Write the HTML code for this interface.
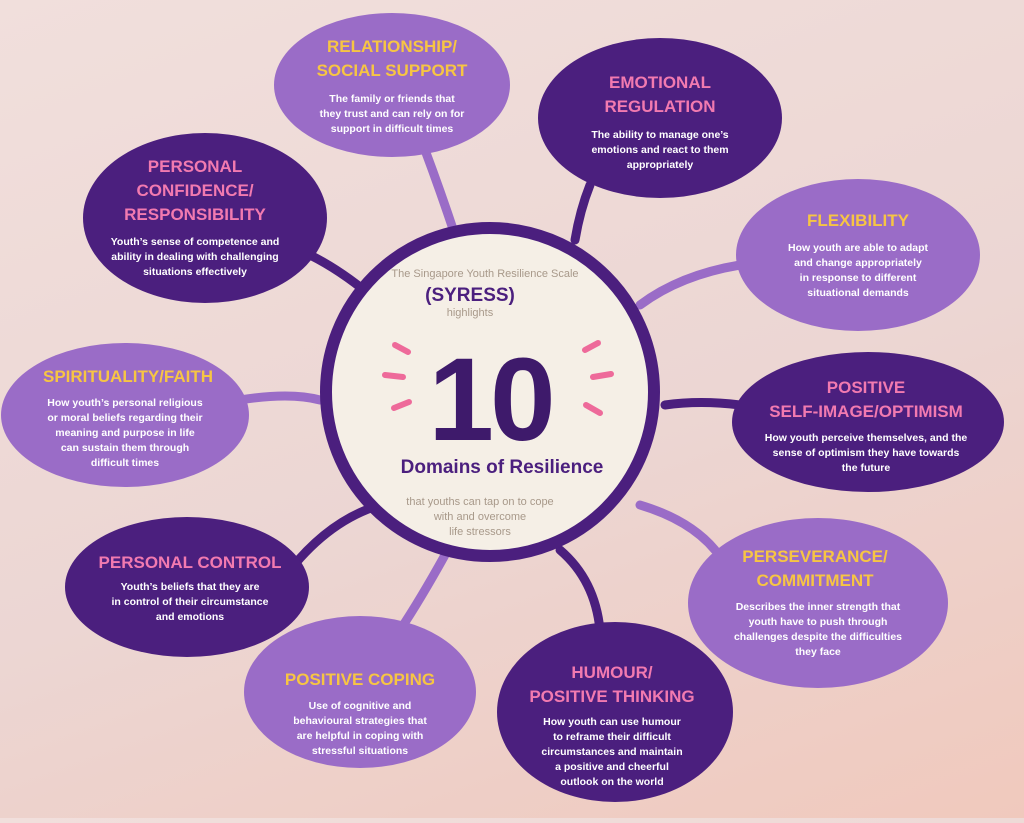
<!DOCTYPE html>
<html><head><meta charset="utf-8"><style>
html,body{margin:0;padding:0;}
body{width:1024px;height:818px;overflow:hidden;background:linear-gradient(160deg,#f1dfdc 0%,#ecd6d3 55%,#f0c9bd 100%);}
svg text{font-family:"Liberation Sans",sans-serif;font-weight:bold;text-anchor:middle;}
.t{font-size:17px;}
.b{font-size:10.5px;fill:#fff;}
.y{fill:#f7c543;}
.p{fill:#f27ab0;}
</style></head><body>
<svg width="1024" height="818" viewBox="0 0 1024 818">
<g fill="none" stroke-width="9" stroke-linecap="round">
<path d="M455 235 Q440 190 425 150" stroke="#9a6cc7"/>
<path d="M575 240 Q580 210 590 185" stroke="#4b1f7e"/>
<path d="M370 295 Q340 270 310 255" stroke="#4b1f7e"/>
<path d="M640 305 Q680 275 740 265" stroke="#9a6cc7"/>
<path d="M320 400 Q290 392 240 400" stroke="#9a6cc7"/>
<path d="M665 405 Q700 400 740 405" stroke="#4b1f7e"/>
<path d="M380 505 Q330 520 290 570" stroke="#4b1f7e"/>
<path d="M640 505 Q690 520 715 550" stroke="#9a6cc7"/>
<path d="M445 555 Q420 600 400 630" stroke="#9a6cc7"/>
<path d="M560 550 Q595 580 600 630" stroke="#4b1f7e"/>
</g>
<circle cx="490" cy="392" r="164" fill="#f5efe6" stroke="#4b1f7e" stroke-width="12"/>
<ellipse cx="392" cy="85" rx="118" ry="72" fill="#9a6cc7"/>
<ellipse cx="660" cy="118" rx="122" ry="80" fill="#4b1f7e"/>
<ellipse cx="205" cy="218" rx="122" ry="85" fill="#4b1f7e"/>
<ellipse cx="858" cy="255" rx="122" ry="76" fill="#9a6cc7"/>
<ellipse cx="125" cy="415" rx="124" ry="72" fill="#9a6cc7"/>
<ellipse cx="868" cy="422" rx="136" ry="70" fill="#4b1f7e"/>
<ellipse cx="187" cy="587" rx="122" ry="70" fill="#4b1f7e"/>
<ellipse cx="818" cy="603" rx="130" ry="85" fill="#9a6cc7"/>
<ellipse cx="360" cy="692" rx="116" ry="76" fill="#9a6cc7"/>
<ellipse cx="615" cy="712" rx="118" ry="90" fill="#4b1f7e"/>

<text x="392" y="52" class="t y">RELATIONSHIP/</text>
<text x="392" y="76" class="t y">SOCIAL SUPPORT</text>
<text x="392" y="102" class="b">The family or friends that</text>
<text x="392" y="117" class="b">they trust and can rely on for</text>
<text x="392" y="132" class="b">support in difficult times</text>

<text x="660" y="88" class="t p">EMOTIONAL</text>
<text x="660" y="112" class="t p">REGULATION</text>
<text x="660" y="138" class="b">The ability to manage one’s</text>
<text x="660" y="153" class="b">emotions and react to them</text>
<text x="660" y="168" class="b">appropriately</text>

<text x="195" y="172" class="t p">PERSONAL</text>
<text x="195" y="196" class="t p">CONFIDENCE/</text>
<text x="195" y="220" class="t p">RESPONSIBILITY</text>
<text x="195" y="245" class="b">Youth’s sense of competence and</text>
<text x="195" y="260" class="b">ability in dealing with challenging</text>
<text x="195" y="275" class="b">situations effectively</text>

<text x="858" y="226" class="t y">FLEXIBILITY</text>
<text x="858" y="251" class="b">How youth are able to adapt</text>
<text x="858" y="266" class="b">and change appropriately</text>
<text x="858" y="281" class="b">in response to different</text>
<text x="858" y="296" class="b">situational demands</text>

<text x="128" y="382" class="t y">SPIRITUALITY/FAITH</text>
<text x="125" y="406" class="b">How youth’s personal religious</text>
<text x="125" y="421" class="b">or moral beliefs regarding their</text>
<text x="125" y="436" class="b">meaning and purpose in life</text>
<text x="125" y="451" class="b">can sustain them through</text>
<text x="125" y="466" class="b">difficult times</text>

<text x="866" y="393" class="t p">POSITIVE</text>
<text x="866" y="417" class="t p">SELF-IMAGE/OPTIMISM</text>
<text x="866" y="441" class="b">How youth perceive themselves, and the</text>
<text x="866" y="456" class="b">sense of optimism they have towards</text>
<text x="866" y="471" class="b">the future</text>

<text x="190" y="568" class="t p">PERSONAL CONTROL</text>
<text x="190" y="590" class="b">Youth’s beliefs that they are</text>
<text x="190" y="605" class="b">in control of their circumstance</text>
<text x="190" y="620" class="b">and emotions</text>

<text x="815" y="562" class="t y">PERSEVERANCE/</text>
<text x="815" y="586" class="t y">COMMITMENT</text>
<text x="818" y="610" class="b">Describes the inner strength that</text>
<text x="818" y="625" class="b">youth have to push through</text>
<text x="818" y="640" class="b">challenges despite the difficulties</text>
<text x="818" y="655" class="b">they face</text>

<text x="360" y="685" class="t y">POSITIVE COPING</text>
<text x="360" y="709" class="b">Use of cognitive and</text>
<text x="360" y="724" class="b">behavioural strategies that</text>
<text x="360" y="739" class="b">are helpful in coping with</text>
<text x="360" y="754" class="b">stressful situations</text>

<text x="612" y="678" class="t p">HUMOUR/</text>
<text x="612" y="702" class="t p">POSITIVE THINKING</text>
<text x="612" y="725" class="b">How youth can use humour</text>
<text x="612" y="740" class="b">to reframe their difficult</text>
<text x="612" y="755" class="b">circumstances and maintain</text>
<text x="612" y="770" class="b">a positive and cheerful</text>
<text x="612" y="785" class="b">outlook on the world</text>

<text x="485" y="277" style="font-size:11px;fill:#a8998a;font-weight:normal">The Singapore Youth Resilience Scale</text>
<text x="470" y="301" style="font-size:19px;fill:#4b1f7e">(SYRESS)</text>
<text x="470" y="316" style="font-size:11px;fill:#a8998a;font-weight:normal">highlights</text>
<text x="490" y="440" style="font-size:118px;fill:#3e1a6b;letter-spacing:-4px">10</text>
<text x="502" y="473" style="font-size:19px;fill:#4b1f7e">Domains of Resilience</text>
<text x="480" y="505" style="font-size:11px;fill:#a8998a;font-weight:normal">that youths can tap on to cope</text>
<text x="480" y="520" style="font-size:11px;fill:#a8998a;font-weight:normal">with and overcome</text>
<text x="480" y="535" style="font-size:11px;fill:#a8998a;font-weight:normal">life stressors</text>
<g stroke="#ee6a9a" stroke-width="6" stroke-linecap="round">
<line x1="395" y1="345" x2="408" y2="352"/>
<line x1="385" y1="375" x2="403" y2="377"/>
<line x1="394" y1="408" x2="409" y2="402"/>
<line x1="585" y1="350" x2="598" y2="343"/>
<line x1="593" y1="377" x2="611" y2="374"/>
<line x1="586" y1="405" x2="600" y2="413"/>
</g>
</svg>
</body></html>
